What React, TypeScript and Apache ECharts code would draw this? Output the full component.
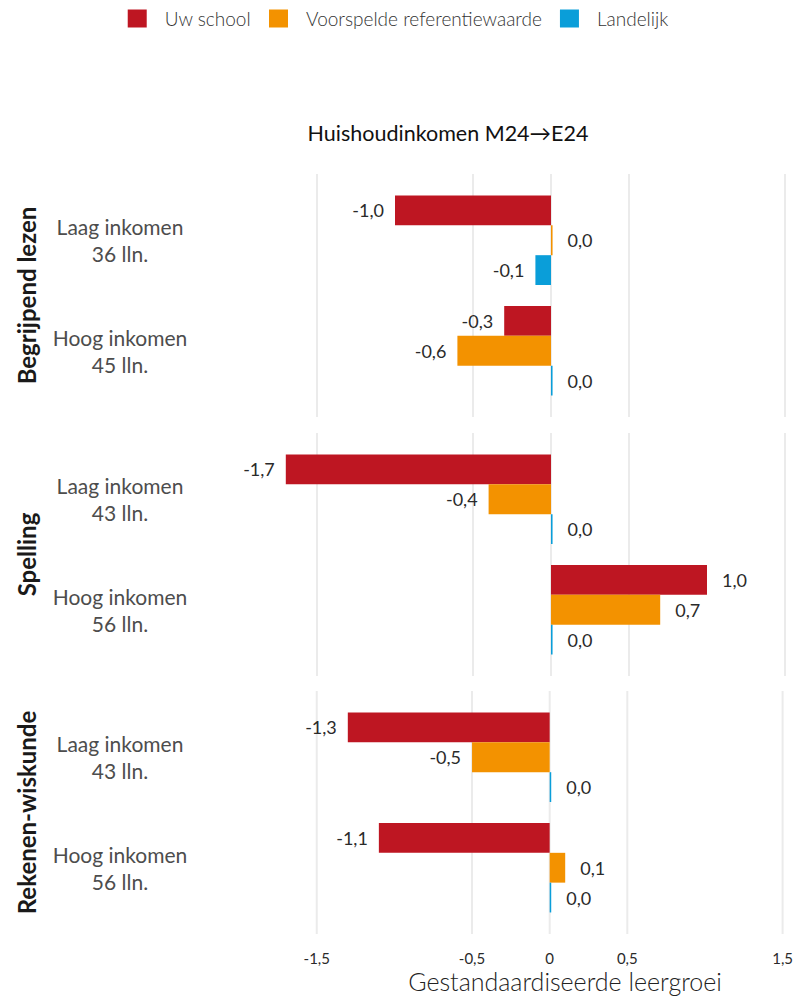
import React, { useEffect, useRef } from "react";
import * as echarts from "echarts";

const SUBJECTS = ["Begrijpend lezen", "Spelling", "Rekenen-wiskunde"];
const GROUPS = ["Laag inkomen", "Hoog inkomen"];
const COUNTS = [
  [36, 45],
  [43, 56],
  [43, 56],
];
const SERIES_NAMES = ["Uw school", "Voorspelde referentiewaarde", "Landelijk"];
const COLORS = ["#be1622", "#f39200", "#0a9ed9"];
// per subject: [Laag inkomen, Hoog inkomen]
const UW_SCHOOL = [
  [-1.0, -0.3],
  [-1.7, 1.0],
  [-1.3, -1.1],
];
const VOORSPELD = [
  [0.01, -0.6],
  [-0.4, 0.7],
  [-0.5, 0.1],
];
const LANDELIJK = [
  [-0.1, 0.01],
  [0.01, 0.01],
  [0.01, 0.01],
];
const X_TICKS = [-1.5, -0.5, 0, 0.5, 1.5];
const TITLE = "Huishoudinkomen M24\u2192E24";
const X_TITLE = "Gestandaardiseerde leergroei";

const FONT = "Lato, 'Noto Sans', sans-serif";
const GRID_TOPS = [174, 433, 691];
const GRID_H = 243;
const GRID_LEFT = 262.4;
const GRID_W = 530.4;
const X_MIN = -1.85;
const X_MAX = 1.55;
const Y_MIN = 0.4;
const Y_MAX = 2.6;
const BAR_T = 0.27;

export default function App() {
  const ref = useRef<HTMLDivElement>(null);

  useEffect(() => {
    document.body.style.margin = "0";
    if (!ref.current) return;
    const chart = echarts.init(ref.current, null, { renderer: "svg" });
    const allValues = [UW_SCHOOL, VOORSPELD, LANDELIJK];

    const grids = GRID_TOPS.map((top) => ({
      left: GRID_LEFT,
      width: GRID_W,
      top,
      height: GRID_H,
      containLabel: false,
    }));

    const xAxes = GRID_TOPS.map((_, i) => ({
      type: "value",
      gridIndex: i,
      min: X_MIN,
      max: X_MAX,
      axisLine: { show: false },
      axisTick: { show: false },
      splitLine: { show: false },
      axisLabel:
        i === GRID_TOPS.length - 1
          ? {
              show: true,
              customValues: X_TICKS,
              formatter: (v: number) => String(v).replace(".", ","),
              fontSize: 15,
              fontFamily: FONT,
              color: "#2a2a2a",
              margin: 16,
            }
          : { show: false },
    }));

    const yAxes = GRID_TOPS.map((_, i) => ({
      type: "value",
      gridIndex: i,
      min: Y_MIN,
      max: Y_MAX,
      inverse: true,
      axisLine: { show: false },
      axisTick: { show: false },
      splitLine: { show: false },
      axisLabel: {
        show: true,
        customValues: [1, 2],
        formatter: (v: number) => {
          const idx = Math.round(v) - 1;
          return `${GROUPS[idx]}\n${COUNTS[i][idx]} lln.`;
        },
        align: "center",
        margin: GRID_LEFT - 120,
        fontSize: 21,
        lineHeight: 27,
        fontFamily: FONT,
        color: "#4d4d4d",
      },
    }));

    const series: any[] = [];
    GRID_TOPS.forEach((_, i) => {
      series.push({
        type: "custom",
        name: "grid" + i,
        xAxisIndex: i,
        yAxisIndex: i,
        silent: true,
        z: 0,
        data: X_TICKS.map((v) => [v, 1]),
        renderItem: (params: any, api: any) => {
          const v = api.value(0);
          const a = api.coord([v, Y_MIN]);
          const b = api.coord([v, Y_MAX]);
          return {
            type: "line",
            shape: { x1: a[0], y1: a[1], x2: b[0], y2: b[1] },
            style: { stroke: "#ebebeb", lineWidth: 2 },
          };
        },
      });
      SERIES_NAMES.forEach((name, k) => {
        series.push({
          type: "custom",
          name,
          xAxisIndex: i,
          yAxisIndex: i,
          z: 2,
          itemStyle: { color: COLORS[k] },
          data: allValues[k][i].map((v, c) => [v, c + 1]),
          renderItem: (params: any, api: any) => {
            const v = api.value(0);
            const c = api.value(1);
            const off = (k - 1) * BAR_T;
            const p0 = api.coord([0, c + off - BAR_T / 2]);
            const p1 = api.coord([v, c + off + BAR_T / 2]);
            const x = Math.min(p0[0], p1[0]);
            const w = Math.abs(p1[0] - p0[0]);
            const y = Math.min(p0[1], p1[1]);
            const h = Math.abs(p1[1] - p0[1]);
            const pos = v >= 0;
            const label = v.toFixed(1).replace(".", ",");
            return {
              type: "group",
              children: [
                {
                  type: "rect",
                  shape: { x, y, width: w, height: h },
                  style: { fill: COLORS[k] },
                },
                {
                  type: "text",
                  x: pos ? p1[0] + 15 : p1[0] - 11,
                  y: (p0[1] + p1[1]) / 2,
                  style: {
                    text: label,
                    fill: "#2a2a2a",
                    fontSize: 18,
                    fontFamily: FONT,
                    align: pos ? "left" : "right",
                    verticalAlign: "middle",
                  },
                },
              ],
            };
          },
        });
      });
    });

    const graphics: any[] = [
      {
        type: "text",
        x: 448,
        y: 133,
        style: {
          text: TITLE,
          fill: "#111",
          fontSize: 21.5,
          fontFamily: FONT,
          align: "center",
          verticalAlign: "middle",
        },
      },
      {
        type: "text",
        x: 565,
        y: 981,
        style: {
          text: X_TITLE,
          fill: "#222",
          fontSize: 25,
          fontWeight: 300,
          fontFamily: FONT,
          align: "center",
          verticalAlign: "middle",
        },
      },
      ...SUBJECTS.map((s, i) => ({
        type: "text",
        x: 26,
        y: GRID_TOPS[i] + GRID_H / 2,
        rotation: Math.PI / 2,
        style: {
          text: s,
          fill: "#1a1a1a",
          fontSize: 24,
          fontWeight: "bold",
          fontFamily: FONT,
          align: "center",
          verticalAlign: "middle",
        },
      })),
    ];

    chart.setOption({
      animation: false,
      backgroundColor: "#fff",
      legend: {
        data: SERIES_NAMES,
        top: 4,
        left: "center",
        icon: "rect",
        itemWidth: 19,
        itemHeight: 18,
        itemGap: 18,
        selectedMode: false,
        textStyle: {
          fontSize: 19,
          fontFamily: FONT,
          fontWeight: 300,
          color: "#333",
          padding: [0, 0, 0, 13],
        },
      },
      grid: grids,
      xAxis: xAxes,
      yAxis: yAxes,
      series,
      graphic: graphics,
    });

    return () => chart.dispose();
  }, []);

  return <div ref={ref} style={{ width: 796, height: 996 }} />;
}
